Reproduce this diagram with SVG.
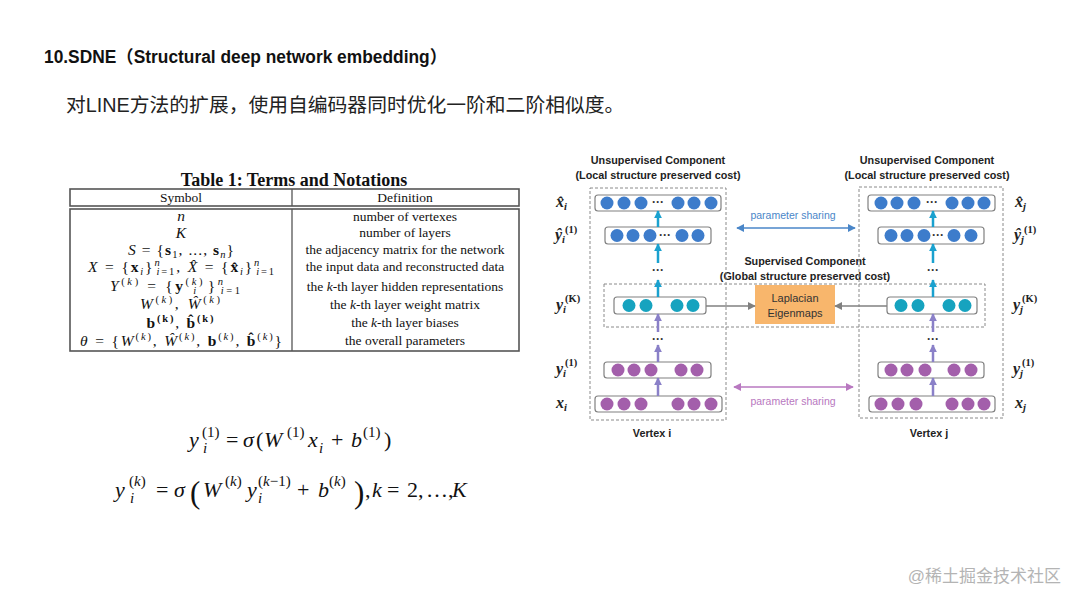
<svg xmlns="http://www.w3.org/2000/svg" width="1080" height="608" viewBox="0 0 1080 608">
<style>
.sans{font-family:"Liberation Sans","Noto Sans CJK SC",sans-serif}
.hd{font-family:"Liberation Sans","Noto Sans CJK SC",sans-serif;font-weight:bold;font-size:10.8px;fill:#222;text-anchor:middle}
.ser{font-family:"Liberation Serif",serif;fill:#111}
.def{font-family:"Liberation Serif",serif;font-size:13.5px;fill:#111;text-anchor:middle}
.sym{font-family:"Liberation Serif",serif;font-size:15.5px;fill:#111;text-anchor:middle}
.it{font-style:italic}
.bf{font-weight:bold}
.row{fill:#fff;stroke:#808080;stroke-width:1.2}
.blue{fill:#3d7ccb}
.teal{fill:#16a3bf}
.purp{fill:#a35fab}
.dash{fill:none;stroke:#8a8a8a;stroke-width:1;stroke-dasharray:3 2}
.dots{font-family:"Liberation Sans",sans-serif;font-weight:bold;font-size:12px;fill:#333;text-anchor:middle}
.lab{font-family:"Liberation Serif",serif;font-weight:bold;font-style:italic;font-size:16px;fill:#222}
.fm{font-family:"Liberation Serif",serif;font-size:22px;fill:#111}
.fs{font-family:"Liberation Serif",serif;font-size:15px;fill:#111}
.ac{stroke:#1aa1cf;stroke-width:2.5;fill:none}
.ap{stroke:#8a80c8;stroke-width:2.5;fill:none}
.ag{stroke:#808080;stroke-width:1.3;fill:none}
</style>
<defs>
<marker id="mc" viewBox="0 0 10 10" refX="9" refY="5" markerWidth="8" markerHeight="8" markerUnits="userSpaceOnUse" orient="auto"><path d="M0,0 L10,5 L0,10 z" fill="#1aa1cf"/></marker>
<marker id="mp" viewBox="0 0 10 10" refX="9" refY="5" markerWidth="8" markerHeight="8" markerUnits="userSpaceOnUse" orient="auto"><path d="M0,0 L10,5 L0,10 z" fill="#8a80c8"/></marker>
<marker id="mg" viewBox="0 0 10 10" refX="9" refY="5" markerWidth="8" markerHeight="8" markerUnits="userSpaceOnUse" orient="auto"><path d="M0,0 L10,5 L0,10 z" fill="#808080"/></marker>
<marker id="mb" viewBox="0 0 10 10" refX="9" refY="5" markerWidth="8" markerHeight="8" markerUnits="userSpaceOnUse" orient="auto-start-reverse"><path d="M0,0 L10,5 L0,10 z" fill="#4a86c8"/></marker>
<marker id="mq" viewBox="0 0 10 10" refX="9" refY="5" markerWidth="8" markerHeight="8" markerUnits="userSpaceOnUse" orient="auto-start-reverse"><path d="M0,0 L10,5 L0,10 z" fill="#b878c0"/></marker>
</defs>
<rect width="1080" height="608" fill="#fff"/>

<!-- header texts -->
<text x="44" y="63" class="sans" font-weight="bold" font-size="17.5" fill="#111" textLength="403" lengthAdjust="spacingAndGlyphs">10.SDNE（Structural deep network embedding）</text>
<text x="66" y="112" class="sans" font-size="19.8" fill="#222">对LINE方法的扩展，使用自编码器同时优化一阶和二阶相似度。</text>

<!-- table -->
<g id="table">
<text x="294" y="186" class="ser" font-weight="bold" font-size="18" text-anchor="middle">Table 1: Terms and Notations</text>
<rect x="70" y="189" width="449" height="17" fill="none" stroke="#555" stroke-width="1.6"/>
<rect x="70" y="209" width="449" height="142" fill="none" stroke="#555" stroke-width="1.6"/>
<line x1="292" y1="189" x2="292" y2="206" stroke="#555" stroke-width="1.3"/>
<line x1="292" y1="209" x2="292" y2="351" stroke="#555" stroke-width="1.3"/>
<text x="181" y="202" class="def">Symbol</text>
<text x="405" y="202" class="def">Definition</text>
<text x="405" y="221" class="def">number of vertexes</text>
<text x="405" y="237" class="def">number of layers</text>
<text x="405" y="254" class="def">the adjacency matrix for the network</text>
<text x="405" y="271" class="def">the input data and reconstructed data</text>
<text x="405" y="291" class="def">the <tspan class="it">k</tspan>-th layer hidden representations</text>
<text x="405" y="309" class="def">the <tspan class="it">k</tspan>-th layer weight matrix</text>
<text x="405" y="327" class="def">the <tspan class="it">k</tspan>-th layer biases</text>
<text x="405" y="345" class="def">the overall parameters</text>

<text x="181" y="221" class="sym it">n</text>
<text x="181" y="238" class="sym it">K</text>
<text x="181" y="255" class="sym" textLength="106" lengthAdjust="spacing"><tspan class="it">S</tspan> = {<tspan class="bf">s</tspan><tspan font-size="10.5" dy="3">1</tspan><tspan dy="-3">, ..., </tspan><tspan class="bf">s</tspan><tspan font-size="10.5" dy="3" class="it">n</tspan><tspan dy="-3">}</tspan></text>
<text x="181" y="272" class="sym" textLength="186" lengthAdjust="spacing"><tspan class="it">X</tspan> = {<tspan class="bf">x</tspan><tspan font-size="10.5" dy="3" class="it">i</tspan><tspan dy="-3">}</tspan><tspan font-size="10.5" dy="-6" class="it">n</tspan><tspan font-size="10.5" dx="-5" dy="9"><tspan class="it">i</tspan>=1</tspan><tspan dy="-3">, </tspan><tspan class="it">X̂</tspan> = {<tspan class="bf">x̂</tspan><tspan font-size="10.5" dy="3" class="it">i</tspan><tspan dy="-3">}</tspan><tspan font-size="10.5" dy="-6" class="it">n</tspan><tspan font-size="10.5" dx="-5" dy="9"><tspan class="it">i</tspan>=1</tspan></text>
<text x="175" y="291" class="sym" textLength="130" lengthAdjust="spacing"><tspan class="it">Y</tspan><tspan font-size="10.5" dy="-6">(<tspan class="it">k</tspan>)</tspan><tspan dy="6"> = {</tspan><tspan class="bf">y</tspan><tspan font-size="10.5" dy="-6">(<tspan class="it">k</tspan>)</tspan><tspan font-size="10.5" dx="-12" dy="9" class="it">i</tspan><tspan dx="9" dy="-3">}</tspan><tspan font-size="10.5" dy="-6" class="it">n</tspan><tspan font-size="10.5" dx="-5" dy="9"><tspan class="it">i</tspan>=1</tspan></text>
<text x="180" y="309" class="sym" textLength="80" lengthAdjust="spacing"><tspan class="it">W</tspan><tspan font-size="10.5" dy="-6">(<tspan class="it">k</tspan>)</tspan><tspan dy="6">, </tspan><tspan class="it">Ŵ</tspan><tspan font-size="10.5" dy="-6">(<tspan class="it">k</tspan>)</tspan></text>
<text x="180" y="328" class="sym" textLength="67" lengthAdjust="spacing"><tspan class="bf">b</tspan><tspan font-size="10.5" dy="-6" class="bf">(k)</tspan><tspan dy="6">, </tspan><tspan class="bf">b̂</tspan><tspan font-size="10.5" dy="-6" class="bf">(k)</tspan></text>
<text x="181" y="346" class="sym" textLength="202" lengthAdjust="spacing"><tspan class="it">θ</tspan> = {<tspan class="it">W</tspan><tspan font-size="10.5" dy="-6">(<tspan class="it">k</tspan>)</tspan><tspan dy="6">, </tspan><tspan class="it">Ŵ</tspan><tspan font-size="10.5" dy="-6">(<tspan class="it">k</tspan>)</tspan><tspan dy="6">, </tspan><tspan class="bf">b</tspan><tspan font-size="10.5" dy="-6">(<tspan class="it">k</tspan>)</tspan><tspan dy="6">, </tspan><tspan class="bf">b̂</tspan><tspan font-size="10.5" dy="-6">(<tspan class="it">k</tspan>)</tspan><tspan dy="6">}</tspan></text>
</g>

<!-- formulas -->
<g id="formula1">
<text x="189" y="447" class="fm it">y</text>
<text x="202" y="437" class="fs">(1)</text>
<text x="203" y="453" class="fs it">i</text>
<text x="226" y="447" class="fm">=</text>
<text x="243" y="447" class="fm it">σ</text>
<text x="256" y="447" class="fm">(</text>
<text x="264" y="447" class="fm it">W</text>
<text x="287" y="437" class="fs">(1)</text>
<text x="308" y="447" class="fm it">x</text>
<text x="319" y="453" class="fs it">i</text>
<text x="331" y="447" class="fm">+</text>
<text x="351" y="447" class="fm it">b</text>
<text x="363" y="437" class="fs">(1)</text>
<text x="384" y="447" class="fm">)</text>
</g>
<g id="formula2">
<text x="115" y="497" class="fm it">y</text>
<text x="129" y="486" class="fs">(<tspan class="it">k</tspan>)</text>
<text x="130" y="503" class="fs it">i</text>
<text x="156" y="497" class="fm">=</text>
<text x="174" y="497" class="fm it">σ</text>
<text x="190" y="503" class="fm" style="font-size:31px">(</text>
<text x="203" y="497" class="fm it">W</text>
<text x="225" y="486" class="fs">(<tspan class="it">k</tspan>)</text>
<text x="247" y="497" class="fm it">y</text>
<text x="258" y="486" class="fs">(<tspan class="it">k</tspan>−1)</text>
<text x="258" y="503" class="fs it">i</text>
<text x="297" y="497" class="fm">+</text>
<text x="318" y="497" class="fm it">b</text>
<text x="329" y="486" class="fs">(<tspan class="it">k</tspan>)</text>
<text x="354" y="503" class="fm" style="font-size:31px">)</text>
<text x="365" y="497" class="fm">,</text>
<text x="372" y="497" class="fm it">k</text>
<text x="387" y="497" class="fm">=</text>
<text x="407" y="497" class="fm">2,</text>
<text x="426" y="497" class="fm">…,</text>
<text x="452" y="497" class="fm it">K</text>
</g>

<!-- diagram headings -->
<g id="headings">
<text x="658" y="164" class="hd">Unsupervised Component</text>
<text x="658" y="179" class="hd">(Local structure preserved cost)</text>
<text x="927" y="164" class="hd">Unsupervised Component</text>
<text x="927" y="179" class="hd">(Local structure preserved cost)</text>
<text x="805" y="265" class="hd">Supervised Component</text>
<text x="805" y="280" class="hd">(Global structure preserved cost)</text>
<text x="652" y="437" class="hd">Vertex i</text>
<text x="929" y="437" class="hd">Vertex j</text>
</g>

<!-- dashed regions -->
<g id="regions">
<rect x="590" y="188" width="136" height="232" class="dash"/>
<rect x="859" y="187" width="144" height="231" class="dash"/>
<rect x="604" y="284" width="381" height="43" class="dash"/>
</g>

<!-- left column nodes -->
<g id="xhat_i">
<rect x="595" y="195" width="126" height="16" rx="3" class="row"/>
<g class="blue"><circle cx="607" cy="203" r="6.5"/><circle cx="624" cy="203" r="6.5"/><circle cx="641" cy="203" r="6.5"/><circle cx="678" cy="203" r="6.5"/><circle cx="694" cy="203" r="6.5"/><circle cx="711" cy="203" r="6.5"/></g>
<text x="658" y="206" class="dots">···</text>
</g>
<g id="yhat_i">
<rect x="605" y="227" width="106" height="17" rx="3" class="row"/>
<g class="blue"><circle cx="617" cy="235.5" r="6.5"/><circle cx="633" cy="235.5" r="6.5"/><circle cx="650" cy="235.5" r="6.5"/><circle cx="682" cy="235.5" r="6.5"/><circle cx="698" cy="235.5" r="6.5"/></g>
<text x="665" y="238.5" class="dots">···</text>
</g>
<g id="yK_i">
<rect x="614" y="297" width="92" height="17" rx="3" class="row"/>
<g class="teal"><circle cx="629" cy="305.5" r="6.5"/><circle cx="646" cy="305.5" r="6.5"/><circle cx="677" cy="305.5" r="6.5"/><circle cx="693" cy="305.5" r="6.5"/></g>
</g>
<g id="y1_i">
<rect x="604" y="362" width="107" height="16" rx="3" class="row"/>
<g class="purp"><circle cx="618" cy="370" r="6.5"/><circle cx="634" cy="370" r="6.5"/><circle cx="651" cy="370" r="6.5"/><circle cx="681" cy="370" r="6.5"/><circle cx="697" cy="370" r="6.5"/></g>
</g>
<g id="x_i">
<rect x="595" y="396" width="127" height="16" rx="3" class="row"/>
<g class="purp"><circle cx="607" cy="404" r="6.5"/><circle cx="624" cy="404" r="6.5"/><circle cx="641" cy="404" r="6.5"/><circle cx="678" cy="404" r="6.5"/><circle cx="694" cy="404" r="6.5"/><circle cx="711" cy="404" r="6.5"/></g>
</g>

<!-- right column nodes -->
<g id="xhat_j">
<rect x="868" y="195" width="127" height="16" rx="3" class="row"/>
<g class="blue"><circle cx="881" cy="203" r="6.5"/><circle cx="897" cy="203" r="6.5"/><circle cx="914" cy="203" r="6.5"/><circle cx="952" cy="203" r="6.5"/><circle cx="968" cy="203" r="6.5"/><circle cx="984" cy="203" r="6.5"/></g>
<text x="932" y="206" class="dots">···</text>
</g>
<g id="yhat_j">
<rect x="878" y="227" width="106" height="17" rx="3" class="row"/>
<g class="blue"><circle cx="891" cy="235.5" r="6.5"/><circle cx="907" cy="235.5" r="6.5"/><circle cx="924" cy="235.5" r="6.5"/><circle cx="954" cy="235.5" r="6.5"/><circle cx="971" cy="235.5" r="6.5"/></g>
<text x="938" y="238.5" class="dots">···</text>
</g>
<g id="yK_j">
<rect x="887" y="297" width="90" height="17" rx="3" class="row"/>
<g class="teal"><circle cx="901" cy="305.5" r="6.5"/><circle cx="918" cy="305.5" r="6.5"/><circle cx="949" cy="305.5" r="6.5"/><circle cx="965" cy="305.5" r="6.5"/></g>
</g>
<g id="y1_j">
<rect x="878" y="362" width="106" height="16" rx="3" class="row"/>
<g class="purp"><circle cx="891" cy="370" r="6.5"/><circle cx="907" cy="370" r="6.5"/><circle cx="925" cy="370" r="6.5"/><circle cx="954" cy="370" r="6.5"/><circle cx="971" cy="370" r="6.5"/></g>
</g>
<g id="x_j">
<rect x="869" y="396" width="126" height="16" rx="3" class="row"/>
<g class="purp"><circle cx="881" cy="404" r="6.5"/><circle cx="898" cy="404" r="6.5"/><circle cx="916" cy="404" r="6.5"/><circle cx="952" cy="404" r="6.5"/><circle cx="968" cy="404" r="6.5"/><circle cx="984" cy="404" r="6.5"/></g>
</g>

<g id="laplacian">
<rect x="755" y="285" width="80" height="39" fill="#f8b66c"/>
<text x="795" y="302" class="sans" font-size="11" fill="#333" text-anchor="middle">Laplacian</text>
<text x="795" y="317" class="sans" font-size="11" fill="#333" text-anchor="middle">Eigenmaps</text>
</g>

<!-- vertical ellipses -->
<g id="ellipses">
<text x="658" y="274" class="dots">···</text>
<text x="658" y="343" class="dots">···</text>
<text x="933" y="274" class="dots">···</text>
<text x="933" y="343" class="dots">···</text>
</g>

<!-- row labels -->
<g id="labels">
<text x="556" y="207" class="lab">x̂<tspan font-size="10.5" dy="3">i</tspan></text>
<text x="555" y="240" class="lab">ŷ<tspan font-size="10.5" dy="3">i</tspan><tspan font-size="10.5" dy="-10" font-style="normal">(1)</tspan></text>
<text x="556" y="310" class="lab">y<tspan font-size="10.5" dy="3">i</tspan><tspan font-size="10.5" dx="-1" dy="-11" font-style="normal">(K)</tspan></text>
<text x="556" y="374" class="lab">y<tspan font-size="10.5" dy="3">i</tspan><tspan font-size="10.5" dx="-1" dy="-11" font-style="normal">(1)</tspan></text>
<text x="556" y="408" class="lab">x<tspan font-size="10.5" dy="3">i</tspan></text>
<text x="1015" y="207" class="lab">x̂<tspan font-size="10.5" dy="3">j</tspan></text>
<text x="1014" y="240" class="lab">ŷ<tspan font-size="10.5" dy="3">j</tspan><tspan font-size="10.5" dy="-10" font-style="normal">(1)</tspan></text>
<text x="1013" y="310" class="lab">y<tspan font-size="10.5" dy="3">j</tspan><tspan font-size="10.5" dx="-1" dy="-11" font-style="normal">(K)</tspan></text>
<text x="1013" y="374" class="lab">y<tspan font-size="10.5" dy="3">j</tspan><tspan font-size="10.5" dx="-1" dy="-11" font-style="normal">(1)</tspan></text>
<text x="1015" y="408" class="lab">x<tspan font-size="10.5" dy="3">j</tspan></text>
</g>

<!-- connectors -->
<g id="connectors">
<line x1="658" y1="227" x2="658" y2="211" class="ac" marker-end="url(#mc)"/>
<line x1="658" y1="263" x2="658" y2="244" class="ac" marker-end="url(#mc)"/>
<line x1="658" y1="297" x2="658" y2="280" class="ac" marker-end="url(#mc)"/>
<line x1="658" y1="332" x2="658" y2="314" class="ap" marker-end="url(#mp)"/>
<line x1="658" y1="362" x2="658" y2="345" class="ap" marker-end="url(#mp)"/>
<line x1="658" y1="396" x2="658" y2="378" class="ap" marker-end="url(#mp)"/>
<line x1="933" y1="227" x2="933" y2="211" class="ac" marker-end="url(#mc)"/>
<line x1="933" y1="263" x2="933" y2="244" class="ac" marker-end="url(#mc)"/>
<line x1="933" y1="297" x2="933" y2="280" class="ac" marker-end="url(#mc)"/>
<line x1="933" y1="332" x2="933" y2="314" class="ap" marker-end="url(#mp)"/>
<line x1="933" y1="362" x2="933" y2="345" class="ap" marker-end="url(#mp)"/>
<line x1="933" y1="396" x2="933" y2="378" class="ap" marker-end="url(#mp)"/>
<line x1="706" y1="306" x2="755" y2="306" class="ag" marker-end="url(#mg)"/>
<line x1="887" y1="306" x2="835" y2="306" class="ag" marker-end="url(#mg)"/>
<line x1="737" y1="228" x2="855" y2="228" stroke="#4a86c8" stroke-width="1.5" marker-start="url(#mb)" marker-end="url(#mb)"/>
<line x1="734" y1="387" x2="853" y2="387" stroke="#b878c0" stroke-width="1.5" marker-start="url(#mq)" marker-end="url(#mq)"/>
</g>
<text x="793" y="219" class="sans" font-size="10.5" fill="#4a86c8" text-anchor="middle">parameter sharing</text>
<text x="793" y="405" class="sans" font-size="10.5" fill="#b878c0" text-anchor="middle">parameter sharing</text>

<text x="1061" y="582" class="sans" font-size="17" fill="#b4b4b4" text-anchor="end">@稀土掘金技术社区</text>
</svg>
